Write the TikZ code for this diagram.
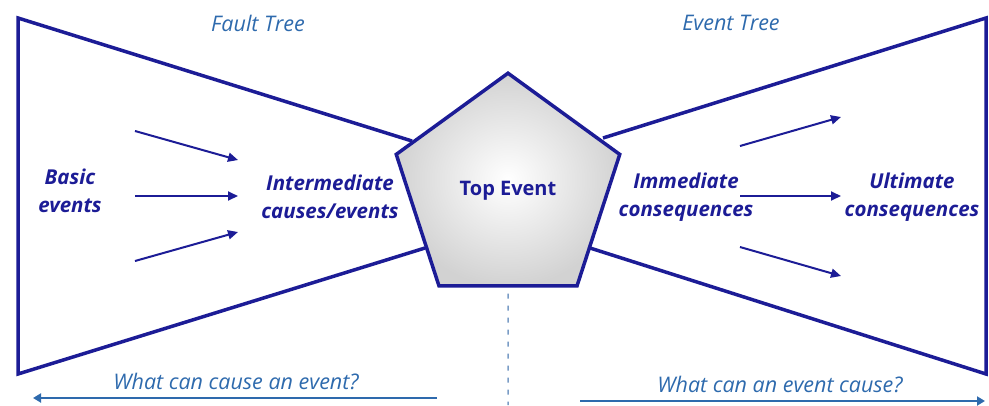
\documentclass[tikz,border=0pt]{standalone}
\usepackage{fontspec}
\setmainfont{Open Sans}
\usetikzlibrary{shapes.geometric,arrows.meta,positioning}

\definecolor{navy}{RGB}{28,28,150}
\definecolor{capblue}{RGB}{46,106,173}
\definecolor{dashblue}{RGB}{122,156,198}

\begin{document}
\begin{tikzpicture}[x=1pt,y=-1pt,
    bow/.style={navy,line width=3.5pt,line join=miter},
    flow/.style={navy,line width=2pt,-{Triangle[length=10pt,width=9pt]}},
    label/.style={navy,font=\fontsize{20.5}{28}\selectfont\bfseries\itshape,align=center},
    caption/.style={capblue,font=\fontsize{21.5}{24}\selectfont\itshape},
    ask/.style={capblue,line width=2pt,-{Triangle[length=8pt,width=9pt]}}]

  \useasboundingbox (0,0) rectangle (989,405);

  % bow tie outline
  \draw[bow] (425,248) -- (18,374) -- (18,18) -- (412,141);
  \draw[bow] (603,138) -- (986,18) -- (986,374) -- (590,248);

  % top event
  \node[regular polygon, regular polygon sides=5, minimum size=235pt,
        inner sep=0pt, draw=navy, line width=3.5pt, shading=radial,
        inner color=white, outer color=gray!35,
        navy, font=\fontsize{20}{24}\selectfont\bfseries] (top) at (508,190.7) {Top Event};

  % labels
  \node[label] (basic) at (70,191) {Basic\\events};
  \node[label] (inter) at (330,197) {Intermediate\\causes/events};
  \node[label] (immed) at (686,197) {Immediate\\consequences};
  \node[label] (ultim) at (912,197) {Ultimate\\consequences};

  \node[caption] (fault) at (258,23) {Fault Tree};
  \node[caption] (event) at (731,23) {Event Tree};
  \node[caption] (cause) at (236,381) {What can cause an event?};
  \node[caption] (effect) at (780,384) {What can an event cause?};

  % arrows inside the trees
  \foreach \i/\ya/\yb in {1/131/160, 2/196/196, 3/261/232} {
    \coordinate (bl\i) at (135,\ya);
    \coordinate (il\i) at (238,\yb);
    \draw[flow] (bl\i) -- (il\i);
  }
  \foreach \i/\ya/\yb in {1/146/117, 2/196/196, 3/247/276} {
    \coordinate (im\i) at (740,\ya);
    \coordinate (ul\i) at (841,\yb);
    \draw[flow] (im\i) -- (ul\i);
  }

  % divider and direction arrows
  \coordinate (dash end) at (508,405);
  \draw[dashblue, line width=1.5pt, dash pattern=on 5pt off 7pt]
    ([yshift=-6pt]top.south) -- (dash end);

  \coordinate (la) at (437,398);
  \coordinate (lb) at (33,398);
  \coordinate (ra) at (580,401);
  \coordinate (rb) at (985,401);
  \draw[ask] (la) -- (lb);
  \draw[ask] (ra) -- (rb);
\end{tikzpicture}
\end{document}
